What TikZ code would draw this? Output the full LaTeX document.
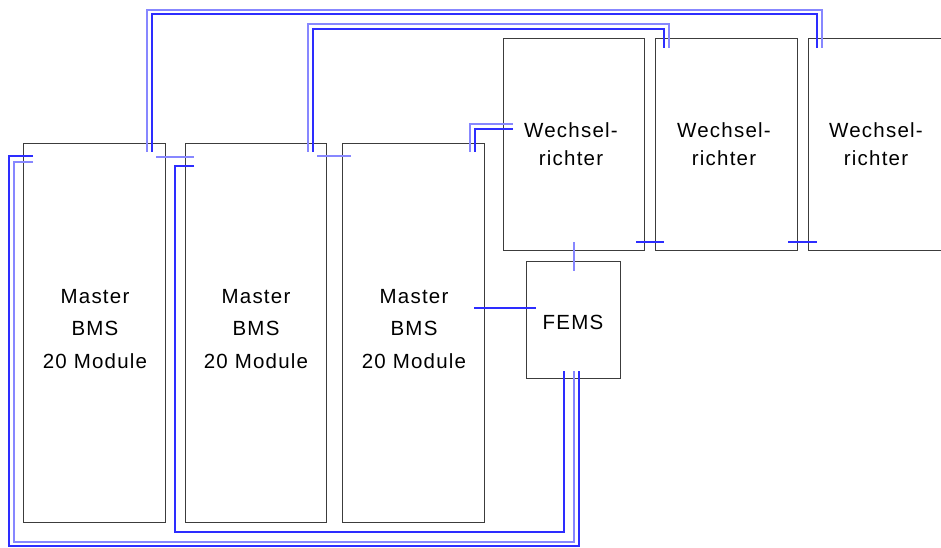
\documentclass[tikz,border=0pt]{standalone}
\usepackage{fontspec}
\setmainfont{Liberation Sans}[LetterSpace=6]
\usetikzlibrary{calc}
\definecolor{wdark}{RGB}{45,45,255}
\definecolor{wlight}{RGB}{135,135,255}
\definecolor{edge}{RGB}{60,60,60}
\begin{document}
\begin{tikzpicture}[x=1pt,y=-1pt,
  box/.style={draw=edge, line width=1.2pt, rectangle, anchor=north west, inner sep=0pt},
  lblA/.style={font=\fontsize{20.5}{32.2}\selectfont, align=center, anchor=center, inner sep=0pt},
  lblB/.style={font=\fontsize{20.5}{28}\selectfont, align=center, anchor=center, inner sep=0pt},
  wt/.style={draw=wdark, line width=1.2pt},
  wtl/.style={draw=wlight, line width=1.2pt},
  wb/.style={draw=wdark, line width=2pt},
  wbl/.style={draw=wlight, line width=1.6pt}
]
\useasboundingbox (0,0) rectangle (941,548);
\clip (0,0) rectangle (941,548);
\fill[white] (0,0) rectangle (941,548);

% boxes
\node[box, minimum width=142pt, minimum height=379pt] (bms1) at (23,143) {};
\node[box, minimum width=141pt, minimum height=379pt] (bms2) at (185,143) {};
\node[box, minimum width=142pt, minimum height=379pt] (bms3) at (342,143) {};
\node[box, minimum width=141pt, minimum height=212pt] (wr1) at (503,38) {};
\node[box, minimum width=142pt, minimum height=212pt] (wr2) at (655,38) {};
\node[box, minimum width=142pt, minimum height=212pt] (wr3) at (808,38) {};
\node[box, minimum width=94pt, minimum height=117pt] (fems) at (526,261) {};

% labels
\node[lblA] (t1) at (95,329) {Master\\BMS\\20 Module};
\node[lblA] (t2) at (256,329) {Master\\BMS\\20 Module};
\node[lblA] (t3) at (414,329) {Master\\BMS\\20 Module};
\node[lblB] (t4) at (571,144) {Wechsel-\\richter};
\node[lblB] (t5) at (724,144) {Wechsel-\\richter};
\node[lblB] (t6) at (876,144) {Wechsel-\\richter};
\node[lblB] (t7) at (573,322) {FEMS};

% named wire ends
\coordinate (a1) at (147,152); \coordinate (a2) at (822,48);
\coordinate (b1) at (152,152); \coordinate (b2) at (817,48);
\coordinate (c1) at (308,152); \coordinate (c2) at (669,48);
\coordinate (d1) at (313,152); \coordinate (d2) at (664,48);
\coordinate (e1) at (470,152); \coordinate (e2) at (513,124);
\coordinate (f1) at (475,152); \coordinate (f2) at (513,129);

% top wires
\draw[wtl] (a1) -- (147,10) -| (a2);
\draw[wt]  (b1) -- (152,14) -| (b2);
\draw[wtl] (c1) -- (308,24) -| (c2);
\draw[wt]  (d1) -- (313,29) -| (d2);
\draw[wtl] (e1) |- (e2);
\draw[wt]  (f1) |- (f2);

% junction ticks
\draw[wtl] (156,157) -- (194,157);
\draw[wtl] (317,156) -- (351,156);
\draw[wtl] (574,242) -- (574,271);
\draw[wt] (636,242) -- (664,242);
\draw[wt] (788,242) -- (817,242);
\draw[wt] (474,308) -- (536,308);

% bottom loops
\coordinate (g1) at (33,156);  \coordinate (g2) at (579,371);
\coordinate (h1) at (33,162);  \coordinate (h2) at (574,371);
\coordinate (k1) at (194,166); \coordinate (k2) at (564,371);
\draw[wb]  (g1) -- (9,156) -- (9,546) -| (g2);
\draw[wbl] (h1) -- (14,162) -- (14,542) -| (h2);
\draw[wb]  (k1) -- (175,166) -- (175,532) -| (k2);
\end{tikzpicture}
\end{document}
